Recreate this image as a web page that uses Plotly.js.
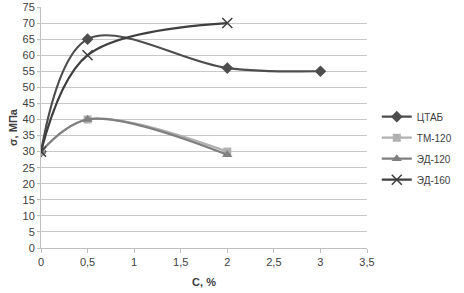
<!DOCTYPE html>
<html><head><meta charset="utf-8">
<script src="https://cdn.plot.ly/plotly-3.0.1.min.js"></script>
<style>body{margin:0;background:#fff}#c{width:464px;height:293px}</style>
</head><body><div id="c"></div>
<script>
const names = ["ЦТАБ", "ТМ-120", "ЭД-120", "ЭД-160"];
const xCTAB = [0, 0.5, 2, 3];
const yCTAB = [30, 65, 56, 55];
const xTM = [0, 0.5, 2];
const yTM = [30, 40, 30];
const xED120 = [0, 0.5, 2];
const yED120 = [30, 40, 29];
const xED160 = [0, 0.5, 2];
const yED160 = [30, 60, 70];
const xTicks = [0, 0.5, 1, 1.5, 2, 2.5, 3, 3.5];
const xTickText = ["0", "0,5", "1", "1,5", "2", "2,5", "3", "3,5"];
const yTicks = [0,5,10,15,20,25,30,35,40,45,50,55,60,65,70,75];

const mk = (x, y, name, color, symbol, size) => ({
  x, y, name, legendgroup: name, type: 'scatter', mode: 'lines+markers',
  line: {color, width: 2.2, shape: 'spline', smoothing: 1},
  marker: {color, symbol, size, line: {color, width: symbol === 'x-thin' ? 1.5 : 0}}
});
const data = [
  mk(xCTAB, yCTAB, names[0], '#4d4d4d', 'diamond', 9),
  mk(xTM, yTM, names[1], '#b0b0b0', 'square', 8),
  mk(xED120, yED120, names[2], '#7f7f7f', 'triangle-up', 9),
  mk(xED160, yED160, names[3], '#3f3f3f', 'x-thin', 10)
];
const layout = {
  width: 464, height: 293,
  margin: {l: 41, r: 95, t: 7, b: 45},
  paper_bgcolor: '#fff', plot_bgcolor: '#fff',
  font: {family: 'Liberation Sans, Arial, sans-serif', size: 11, color: '#404040'},
  showlegend: true,
  legend: {x: 1.03, xanchor: 'left', y: 0.605, yanchor: 'top', font: {size: 10, color: '#404040'},
    traceorder: 'grouped', tracegroupgap: 2, itemwidth: 30},
  xaxis: {range: [0, 3.5], tickvals: xTicks, ticktext: xTickText, showgrid: false, zeroline: false,
    showline: true, linecolor: '#bfbfbf', ticks: 'outside', tickcolor: '#bfbfbf', ticklen: 4,
    title: {text: '<b>C, %</b>', font: {size: 11, color: '#404040'}, standoff: 11}},
  yaxis: {range: [0, 75], tickvals: yTicks, showgrid: true, gridcolor: '#c8c8c8', zeroline: false,
    showline: true, linecolor: '#bfbfbf', ticks: 'outside', tickcolor: '#bfbfbf', ticklen: 3,
    title: {text: '<b>σ, МПа</b>', font: {size: 11, color: '#404040'}, standoff: 2}}
};
Plotly.newPlot('c', data, layout, {displayModeBar: false, staticPlot: true});
</script></body></html>
